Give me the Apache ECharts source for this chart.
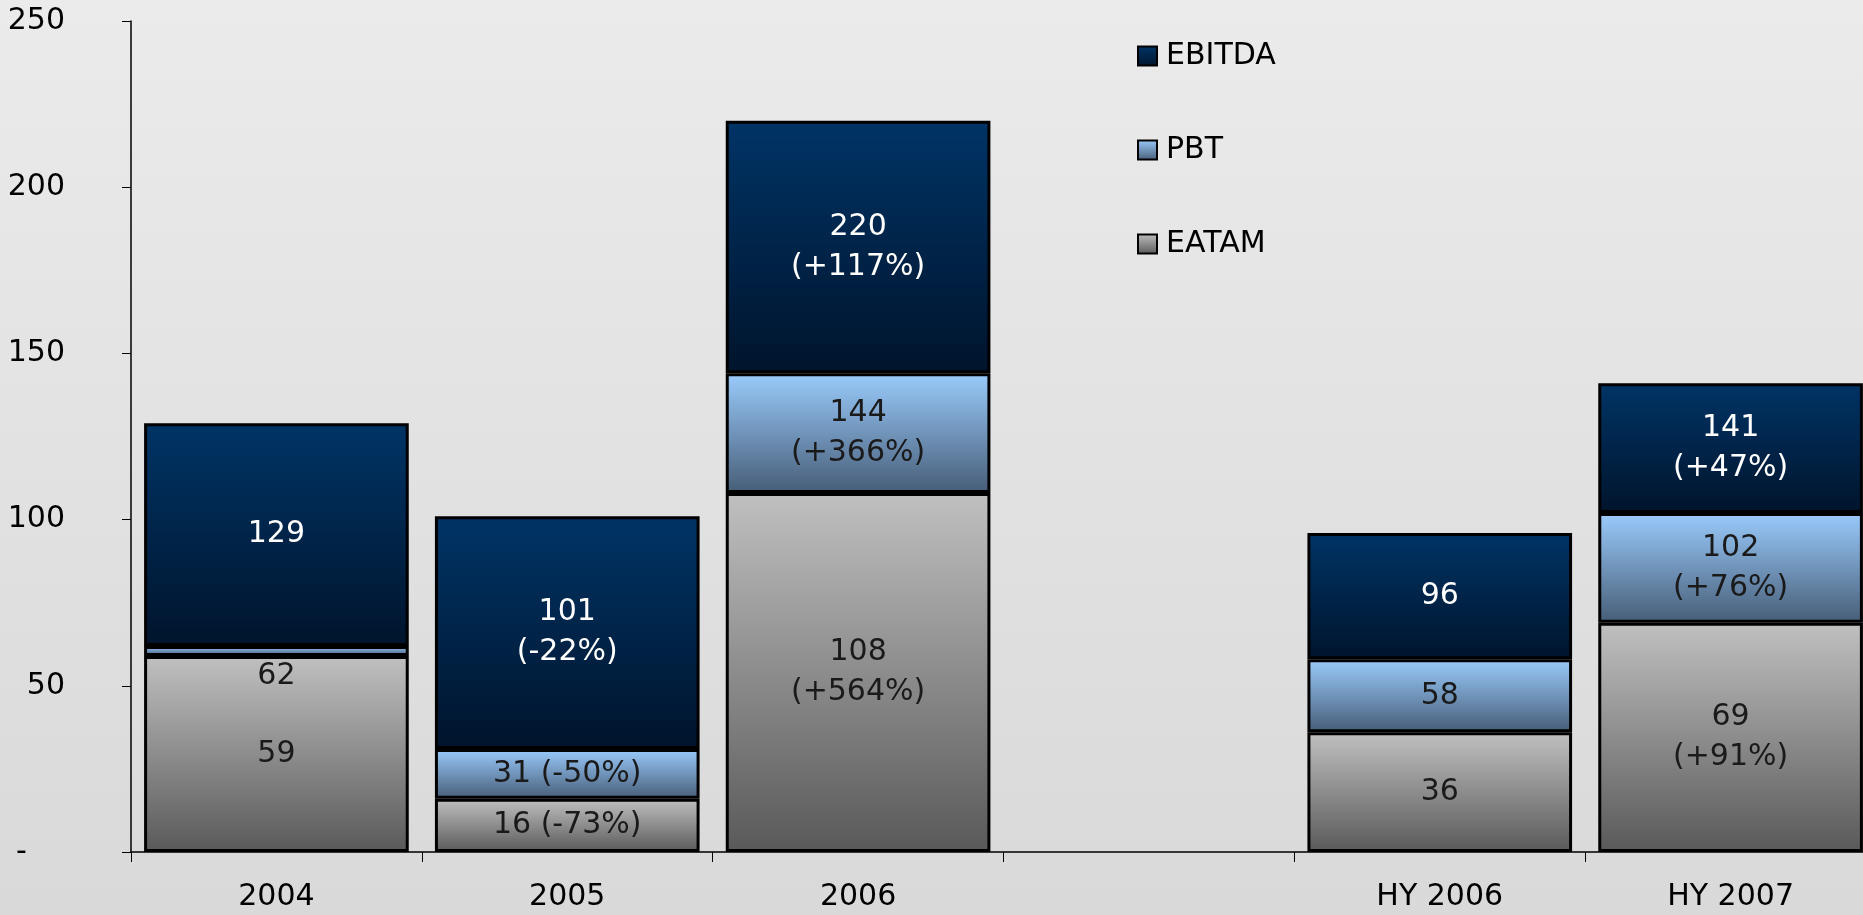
<!DOCTYPE html>
<html>
<head>
<meta charset="utf-8">
<script src="https://cdn.jsdelivr.net/npm/echarts@6/dist/echarts.min.js"></script>
<style>
  html, body { margin: 0; padding: 0; }
  #chart { width: 1863px; height: 915px; }
</style>
</head>
<body>
<div id="chart"></div>
<script>
const categories = ['2004', '2005', '2006', '', 'HY 2006', 'HY 2007'];
const ebitda = [129, 101, 220, null, 96, 141];
const pbt = [62, 31, 144, null, 58, 102];
const eatam = [59, 16, 108, null, 36, 69];
const ebitdaChange = ['', '-22%', '+117%', '', '', '+47%'];
const pbtChange = ['', '-50%', '+366%', '', '', '+76%'];
const eatamChange = ['', '-73%', '+564%', '', '', '+91%'];

const fontFamily = '"DejaVu Sans", "Noto Sans", sans-serif';

const grad = (top, bottom) => ({
  type: 'linear', x: 0, y: 0, x2: 0, y2: 1,
  colorStops: [{ offset: 0, color: top }, { offset: 1, color: bottom }]
});

const colEbitda = grad('#003466', '#00142c');
const colPbt = grad('#9acbfc', '#475d77');
const colEatam = grad('#c0c0c0', '#595959');

// each series shows only its own band on top of the one below
const segment = (upper, lower) => upper.map((v, i) => (v == null ? null : v - (lower ? lower[i] : 0)));

const makeLabel = (values, changes) => (p) => {
  const v = values[p.dataIndex];
  const c = changes[p.dataIndex];
  if (!c) return String(v);
  return p.value < 20 ? v + ' (' + c + ')' : v + '\n(' + c + ')';
};

const buildData = (seg) => seg.map((v) => {
  if (v == null) return '-';
  if (v < 5) return { value: v, label: { position: 'bottom', distance: 0 } };
  return v;
});

const myChart = echarts.init(document.getElementById('chart'));
const option = {
  backgroundColor: grad('#ebebeb', '#d9d9d9'),
  textStyle: { fontFamily },
  // the last category runs a little past the right edge, as in the original slide
  grid: { left: 131, width: 1745, top: 21, bottom: 63, outerBoundsMode: 'none' },
  legend: {
    orient: 'vertical',
    left: 1132,
    top: 36,
    itemWidth: 19,
    itemHeight: 19,
    itemGap: 64,
    icon: 'rect',
    data: ['EBITDA', 'PBT', 'EATAM'],
    itemStyle: { borderColor: '#000', borderWidth: 2 },
    textStyle: { fontSize: 30, color: '#000', fontFamily, padding: [0, 0, 0, 4] }
  },
  xAxis: {
    type: 'category',
    data: categories,
    axisLine: { lineStyle: { color: '#000', width: 1.5 } },
    axisTick: { show: true, alignWithLabel: false, length: 10, lineStyle: { color: '#000' } },
    axisLabel: { color: '#000', fontSize: 30, margin: 30, fontFamily }
  },
  yAxis: {
    type: 'value',
    min: 0,
    max: 250,
    interval: 50,
    splitLine: { show: false },
    axisLine: { show: true, lineStyle: { color: '#000', width: 1.5 } },
    axisTick: { show: true, length: 9, lineStyle: { color: '#000' } },
    axisLabel: {
      color: '#000',
      fontSize: 30,
      margin: 66,
      fontFamily,
      formatter: (v) => (v === 0 ? '-    ' : String(v))
    }
  },
  series: [
    {
      name: 'EATAM',
      type: 'bar',
      stack: 'total',
      barCategoryGap: '9%',
      itemStyle: { color: colEatam, borderColor: '#000', borderWidth: 3 },
      label: {
        show: true, position: 'inside', color: '#1a1a1a', fontSize: 30,
        lineHeight: 40, fontFamily, formatter: makeLabel(eatam, eatamChange)
      },
      data: buildData(segment(eatam))
    },
    {
      name: 'PBT',
      type: 'bar',
      stack: 'total',
      itemStyle: { color: colPbt, borderColor: '#000', borderWidth: 3 },
      label: {
        show: true, position: 'inside', color: '#1a1a1a', fontSize: 30,
        lineHeight: 40, fontFamily, formatter: makeLabel(pbt, pbtChange)
      },
      data: buildData(segment(pbt, eatam))
    },
    {
      name: 'EBITDA',
      type: 'bar',
      stack: 'total',
      itemStyle: { color: colEbitda, borderColor: '#000', borderWidth: 3 },
      label: {
        show: true, position: 'inside', color: '#ffffff', fontSize: 30,
        lineHeight: 40, fontFamily, formatter: makeLabel(ebitda, ebitdaChange)
      },
      data: buildData(segment(ebitda, pbt))
    }
  ]
};
myChart.setOption(option);
</script>
</body>
</html>
